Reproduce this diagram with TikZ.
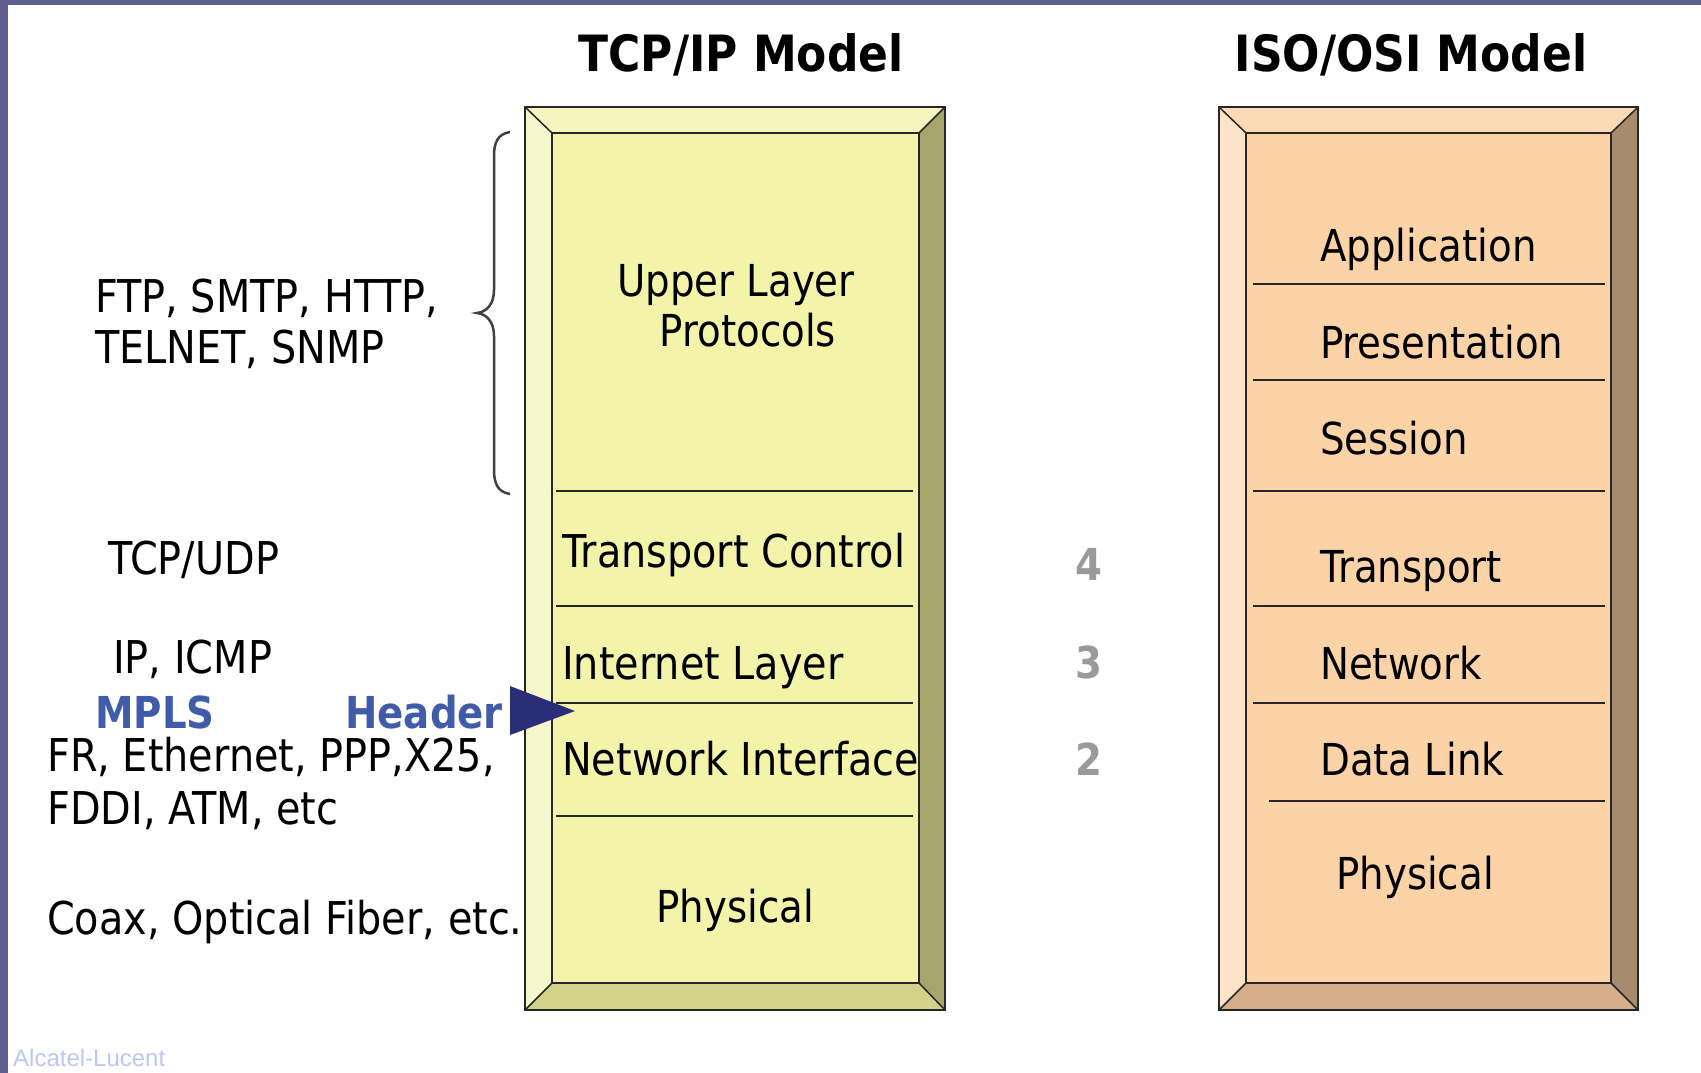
\documentclass[tikz,border=0pt]{standalone}
\usepackage{fontspec}
\setmainfont{DejaVu Sans}[FakeStretch=0.88]
\newfontfamily\alcfont{Liberation Sans}
\definecolor{frame}{HTML}{5F5F91}
\definecolor{tcpface}{HTML}{F3F3A9}
\definecolor{tcplite}{HTML}{F7F7CD}
\definecolor{tcptop}{HTML}{F5F5BE}
\definecolor{tcpdark}{HTML}{A6A66C}
\definecolor{tcpbot}{HTML}{D2D28B}
\definecolor{osiface}{HTML}{FBD3A6}
\definecolor{osilite}{HTML}{FDE3C8}
\definecolor{ositop}{HTML}{FCDAB5}
\definecolor{osidark}{HTML}{A88B6C}
\definecolor{osibot}{HTML}{D4AF89}
\definecolor{mplsblue}{HTML}{3F5BAA}
\definecolor{arrowblue}{HTML}{2A2E78}
\definecolor{numgrey}{HTML}{9A9A9A}
\definecolor{alcblue}{HTML}{C4C4F0}

\begin{document}
\begin{tikzpicture}[x=1pt,y=-1pt]
    \tikzstyle{every node}+=[inner sep=0pt, text=black]
    \tikzstyle{txt}=[anchor=base west, font=\fontsize{44}{50}\selectfont]
    \tikzstyle{ltxt}=[anchor=base west, font=\fontsize{45.2}{50}\selectfont]
    \tikzstyle{ctxt}=[anchor=base, font=\fontsize{44}{50}\selectfont]
    \tikzstyle{title}=[anchor=base, font=\fontsize{50}{56}\selectfont\bfseries]
    \tikzstyle{num}=[anchor=base, text=numgrey, font=\fontsize{44}{50}\selectfont\bfseries]
    \tikzstyle{blue}=[anchor=base west, text=mplsblue, font=\fontsize{44}{50}\selectfont\bfseries]
    \tikzstyle{edge}=[line width=1.5pt, black!85]
    \useasboundingbox (0,0) rectangle (1701,1073);
    \fill [white] (0,0) rectangle (1701,1073);
    \fill [frame] (0,0) rectangle (1701,5);
    \fill [frame] (0,0) rectangle (8,1073);
    % TCP/IP box
    \fill [tcptop] (525,107) -- (945,107) -- (919,133) -- (552,133) -- cycle;
    \fill [tcplite] (525,107) -- (552,133) -- (552,983) -- (525,1010) -- cycle;
    \fill [tcpdark] (945,107) -- (945,1010) -- (919,983) -- (919,133) -- cycle;
    \fill [tcpbot] (525,1010) -- (552,983) -- (919,983) -- (945,1010) -- cycle;
    \fill [tcpface] (552,133) rectangle (919,983);
    \draw [edge] (525,107) rectangle (945,1010);
    \draw [edge] (552,133) rectangle (919,983);
    \draw [edge] (525,107) -- (552,133);
    \draw [edge] (945,107) -- (919,133);
    \draw [edge] (525,1010) -- (552,983);
    \draw [edge] (945,1010) -- (919,983);
    \draw [edge] (556,491) -- (913,491);
    \draw [edge] (556,606) -- (913,606);
    \draw [edge] (556,703) -- (913,703);
    \draw [edge] (556,816) -- (913,816);
    % ISO/OSI box
    \fill [ositop] (1219,107) -- (1638,107) -- (1611,133) -- (1246,133) -- cycle;
    \fill [osilite] (1219,107) -- (1246,133) -- (1246,983) -- (1219,1010) -- cycle;
    \fill [osidark] (1638,107) -- (1638,1010) -- (1611,983) -- (1611,133) -- cycle;
    \fill [osibot] (1219,1010) -- (1246,983) -- (1611,983) -- (1638,1010) -- cycle;
    \fill [osiface] (1246,133) rectangle (1611,983);
    \draw [edge] (1219,107) rectangle (1638,1010);
    \draw [edge] (1246,133) rectangle (1611,983);
    \draw [edge] (1219,107) -- (1246,133);
    \draw [edge] (1638,107) -- (1611,133);
    \draw [edge] (1219,1010) -- (1246,983);
    \draw [edge] (1638,1010) -- (1611,983);
    \draw [edge] (1253,284) -- (1605,284);
    \draw [edge] (1253,380) -- (1605,380);
    \draw [edge] (1253,491) -- (1605,491);
    \draw [edge] (1253,606) -- (1605,606);
    \draw [edge] (1253,703) -- (1605,703);
    \draw [edge] (1269,801) -- (1605,801);
    % titles
    \node [title] (tcptitle) at (741,72) {TCP/IP Model};
    \node [title] (workingtitle) at (1411,72) {ISO/OSI Model};
    % TCP/IP layers
    \node [ctxt] (upper) at (736,296) {Upper Layer};
    \node [ctxt] (protocols) at (748,346) {Protocols};
    \node [ltxt] (transctl) at (562,567) {Transport Control};
    \node [ltxt] (internet) at (562,679) {Internet Layer};
    \node [ltxt] (netif) at (562,775) {Network Interface};
    \node [ctxt] (tcpphys) at (735,922) {Physical};
    % ISO/OSI layers
    \node [txt] (application) at (1320,261) {Application};
    \node [txt] (presentation) at (1320,358) {Presentation};
    \node [txt] (session) at (1320,454) {Session};
    \node [txt] (transport) at (1320,582) {Transport};
    \node [txt] (network) at (1320,679) {Network};
    \node [txt] (datalink) at (1320,775) {Data Link};
    \node [txt] (osiphys) at (1336,889) {Physical};
    % layer numbers
    \node [num] (four) at (1089,580) {4};
    \node [num] (three) at (1089,678) {3};
    \node [num] (two) at (1089,775) {2};
    % protocols on the left
    \node [ltxt] (ftp) at (95,312) {FTP, SMTP, HTTP,};
    \node [ltxt] (telnet) at (95,363) {TELNET, SNMP};
    \node [ltxt] (tcpudp) at (108,574) {TCP/UDP};
    \node [ltxt] (ipicmp) at (113,673) {IP, ICMP};
    \node [blue] (mpls) at (95,728) {MPLS};
    \node [blue] (header) at (345,728) {Header};
    \node [ltxt] (fr) at (47,771) {FR, Ethernet, PPP,X25,};
    \node [ltxt] (fddi) at (47,824) {FDDI, ATM, etc};
    \node [ltxt] (coax) at (47,934) {Coax, Optical Fiber, etc.};
    \fill [arrowblue] (510,686) -- (575,711) -- (510,735) -- cycle;
    % brace
    \draw [line width=2.5pt, black!75] (510,132) .. controls (498,134) and (494,142) .. (494,156)
        -- (494,290) .. controls (494,305) and (486,312) .. (477,313)
        .. controls (486,314) and (494,321) .. (494,336) -- (494,470)
        .. controls (494,484) and (498,492) .. (510,494);
    \node [anchor=base west, text=alcblue, font=\alcfont\fontsize{24}{28}\selectfont] (alcatel) at (13,1066) {Alcatel-Lucent};
\end{tikzpicture}
\end{document}
